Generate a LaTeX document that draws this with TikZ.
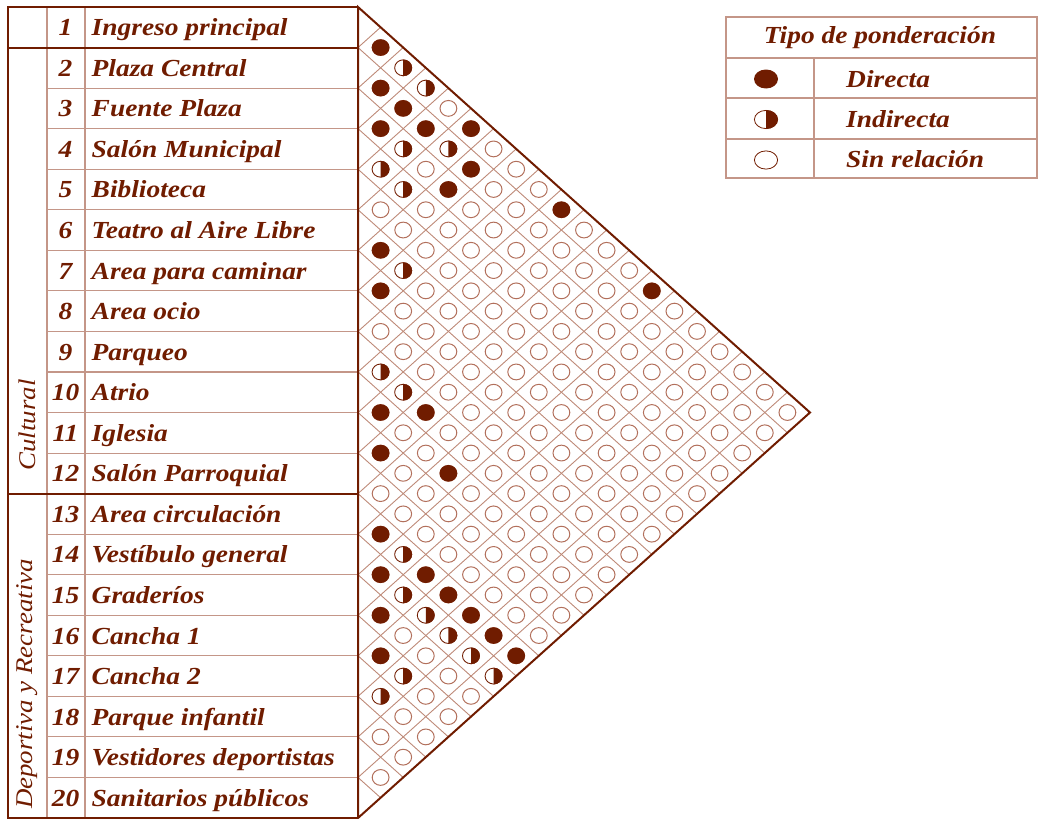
\documentclass[tikz,border=0pt]{standalone}
\usepackage{fontspec}
\setmainfont{Liberation Serif}[FakeStretch=1.12]
\definecolor{mainc}{RGB}{112,28,0}
\definecolor{gridc}{RGB}{190,138,120}
\definecolor{circc}{RGB}{178,112,92}
\definecolor{tabc}{RGB}{196,150,136}
\begin{document}
\begin{tikzpicture}[x=1pt,y=-1pt,
  thickline/.style={draw=mainc,line width=2pt},
  gridline/.style={draw=gridc,line width=0.9pt},
  tabline/.style={draw=tabc,line width=1.1pt},
  emptyc/.style={draw=circc,line width=1pt},
  txt/.style={text=mainc,font=\fontsize{24.5}{25}\selectfont\bfseries\itshape,inner sep=0pt},
  grptxt/.style={text=mainc,font=\fontsize{24}{25}\selectfont\itshape,inner sep=0pt,rotate=90},
  numtxt/.style={txt,anchor=base},
  nametxt/.style={txt,anchor=base west}]
\useasboundingbox (0,0) rectangle (1039,819);
% ---------- table ----------
\foreach \k in {2,...,11,13,14,...,19}
  \draw[tabline] (47,{7+\k*40.55}) -- (358,{7+\k*40.55});
\draw[tabline] (47,7) -- (47,818);
\draw[tabline] (85,7) -- (85,818);
\draw[thickline] (8,47.55) -- (358,47.55);
\draw[thickline] (8,493.6) -- (358,493.6);
\draw[thickline] (358,7) -- (8,7) -- (8,818) -- (358,818);
% ---------- names ----------
\foreach \n/\t in {1/Ingreso principal,2/Plaza Central,3/Fuente Plaza,4/Salón Municipal,5/Biblioteca,6/Teatro al Aire Libre,7/Area para caminar,8/Area ocio,9/Parqueo,10/Atrio,11/Iglesia,12/Salón Parroquial,13/Area circulación,14/Vestíbulo general,15/Graderíos,16/Cancha 1,17/Cancha 2,18/Parque infantil,19/Vestidores deportistas,20/Sanitarios públicos}{
  \node[numtxt] (num\n) at (65.5,{7+(\n-0.5)*40.55+8.5}) {\n};
  \node[nametxt] (name\n) at (91.5,{7+(\n-0.5)*40.55+8.5}) {\t};
}
\node[grptxt] (gcult) at (27,425) {Cultural};
\node[grptxt] (gdep) at (27,684) {Deportiva y Recreativa};
% ---------- lattice ----------
\foreach \k in {1,...,19}{
  \draw[gridline] (358,{7+\k*40.55}) -- ({358+\k*22.6},{7+\k*20.275});
  \draw[gridline] (358,{7+\k*40.55}) -- ({358+(20-\k)*22.6},{7+\k*40.55+(20-\k)*20.275});
}
\draw[thickline] (358,7) -- (810,412.5) -- (358,818) -- cycle;
% ---------- circles ----------
\foreach \i in {1,...,19}{
  \pgfmathtruncatemacro\s{\i+1}
  \foreach \j in {\s,...,20}
    \draw[emptyc] ({358+(\j-\i)*22.6},{7+(\i+\j-1)*20.275}) ellipse[x radius=8.4,y radius=7.9];
}
\foreach \i/\j in {1/2,2/3,2/4,3/4,2/5,1/6,2/7,3/7,1/10,6/7,7/8,10/11,9/12,11/12,10/14,1/14,13/14,14/15,13/16,13/17,15/16,13/18,13/19,16/17,13/20}
  \fill[mainc] ({358+(\j-\i)*22.6},{7+(\i+\j-1)*20.275}) ellipse[x radius=8.9,y radius=8.3];
\foreach \i/\j in {1/3,1/4,3/5,2/6,4/5,4/6,6/8,9/10,9/11,13/15,14/16,14/17,14/18,14/19,16/18,14/20,17/18}{
  \coordinate (c) at ({358+(\j-\i)*22.6},{7+(\i+\j-1)*20.275});
  \fill[white] (c) ellipse[x radius=8.9,y radius=8.3];
  \fill[mainc] (c) ++(0,-8.3) arc[start angle=-90,end angle=90,x radius=8.9,y radius=8.3] -- cycle;
  \draw[mainc,line width=0.8pt] (c) ellipse[x radius=8.5,y radius=7.9];
}
% ---------- legend ----------
\draw[tabline] (726,17) rectangle (1037,178);
\foreach \yy in {58,98,139} \draw[tabline] (726,\yy) -- (1037,\yy);
\draw[tabline] (814,58) -- (814,178);
\node[txt,anchor=base] (ltitle) at (880,43.5) {Tipo de ponderación};
\node[nametxt] (ldir) at (846,87) {Directa};
\node[nametxt] (lind) at (846,127.5) {Indirecta};
\node[nametxt] (lsin) at (846,167.5) {Sin relación};
\fill[mainc] (766,79) ellipse[x radius=12,y radius=9.5];
\coordinate (lh) at (766,119.5);
\fill[mainc] (lh) ++(0,-9.5) arc[start angle=-90,end angle=90,x radius=12,y radius=9.5] -- cycle;
\draw[mainc,line width=0.8pt] (lh) ellipse[x radius=11.6,y radius=9.1];
\draw[mainc,line width=0.8pt] (766,160) ellipse[x radius=11.6,y radius=9.1];
\end{tikzpicture}
\end{document}
